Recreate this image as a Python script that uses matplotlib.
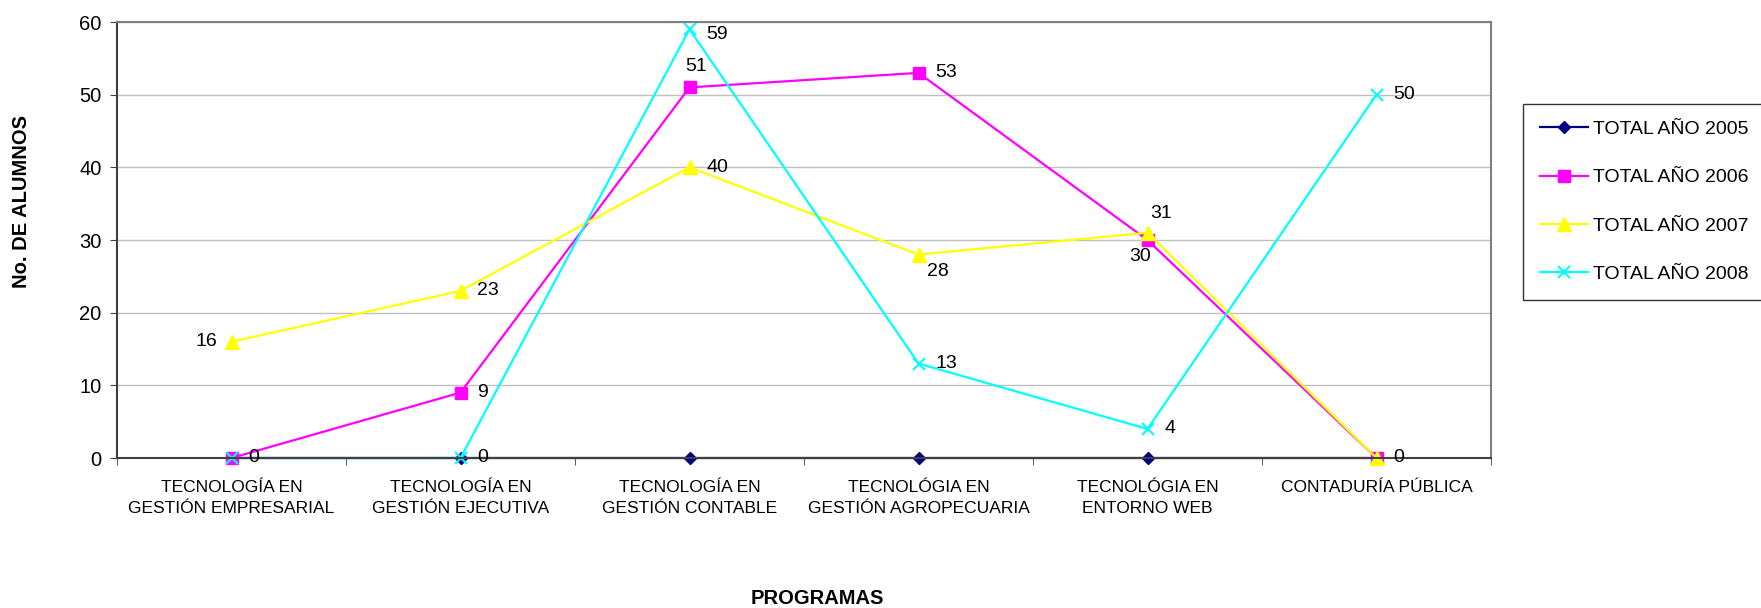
import matplotlib
matplotlib.use("Agg")
import matplotlib.pyplot as plt
import numpy as np

plt.rcParams["font.family"] = ["Liberation Sans", "DejaVu Sans"]

PROGRAMAS = [
    "TECNOLOGÍA EN\nGESTIÓN EMPRESARIAL",
    "TECNOLOGÍA EN\nGESTIÓN EJECUTIVA",
    "TECNOLOGÍA EN\nGESTIÓN CONTABLE",
    "TECNOLÓGIA EN\nGESTIÓN AGROPECUARIA",
    "TECNOLÓGIA EN\nENTORNO WEB",
    "CONTADURÍA PÚBLICA",
]
total_2005 = [0, 0, 0, 0, 0, 0]
total_2006 = [0, 9, 51, 53, 30, 0]
total_2007 = [16, 23, 40, 28, 31, 0]
total_2008 = [0, 0, 59, 13, 4, 50]
SERIES_NAMES = ["TOTAL AÑO 2005", "TOTAL AÑO 2006", "TOTAL AÑO 2007", "TOTAL AÑO 2008"]

STYLES = [
    dict(color="#000080", marker="D", ms=6),
    dict(color="#FF00FF", marker="s", ms=9),
    dict(color="#FFFF00", marker="^", ms=10),
    dict(color="#00FFFF", marker="x", ms=9, mew=1.5),
]

# (series index, point index, offset in points, ha, va)
LABELS = [
    (3, 0, (12, 0), "left", "center"),
    (0, 1, (12, 0), "left", "center"),
    (1, 1, (12, 0), "left", "center"),
    (2, 1, (12, 0), "left", "center"),
    (2, 0, (-10, 0), "right", "center"),
    (1, 2, (5, 9), "center", "bottom"),
    (3, 2, (12, -4), "left", "center"),
    (2, 2, (12, 0), "left", "center"),
    (1, 3, (12, 0), "left", "center"),
    (2, 3, (6, -12), "left", "center"),
    (3, 3, (12, 0), "left", "center"),
    (2, 4, (2, 14), "left", "center"),
    (1, 4, (-5, -12), "center", "center"),
    (3, 4, (12, 0), "left", "center"),
    (3, 5, (12, 0), "left", "center"),
    (1, 5, (12, 0), "left", "center"),
]


def plot_alumnos():
    data = [total_2005, total_2006, total_2007, total_2008]
    x = np.arange(len(PROGRAMAS))

    fig = plt.figure(figsize=(17.61, 6.08), dpi=100)
    ax = fig.add_axes([117 / 1761, 1 - 458 / 608, (1491 - 117) / 1761, (458 - 22) / 608])

    for vals, name, st in zip(data, SERIES_NAMES, STYLES):
        ax.plot(x, vals, lw=1.6, label=name, clip_on=False, **st)

    for s, i, off, ha, va in LABELS:
        ax.annotate(str(data[s][i]), (x[i], data[s][i]), xytext=off,
                    textcoords="offset points", ha=ha, va=va, fontsize=14)

    ax.set_xlim(-0.5, len(PROGRAMAS) - 0.5)
    ax.set_ylim(0, 60)
    ax.set_yticks(np.arange(0, 61, 10))
    ax.set_xticks(x)
    ax.set_xticklabels(PROGRAMAS, fontsize=12.5, linespacing=1.45)
    ax.set_xticks(np.arange(-0.5, len(PROGRAMAS), 1), minor=True)
    ax.tick_params(axis="x", which="major", length=0, pad=16)
    ax.tick_params(axis="x", which="minor", length=5, color="#404040")
    ax.tick_params(axis="y", length=5, color="#404040", labelsize=14.5, pad=6)
    ax.yaxis.grid(True, color="#c0c0c0", lw=1)
    ax.set_axisbelow(True)
    for sp in ["left", "bottom"]:
        ax.spines[sp].set_color("#404040")
        ax.spines[sp].set_linewidth(1.5)
    for sp in ["top", "right"]:
        ax.spines[sp].set_color("#808080")
        ax.spines[sp].set_linewidth(1.5)

    fig.text(22 / 1761, 1 - 202 / 608, "No. DE ALUMNOS", rotation=90, ha="center",
             va="center", fontsize=14.5, fontweight="bold")
    fig.text(817 / 1761, 1 - 599 / 608, "PROGRAMAS", ha="center", va="center",
             fontsize=14.5, fontweight="bold")

    leg = ax.legend(loc="upper left", bbox_to_anchor=(1523 / 1761, 1 - 104 / 608),
                    bbox_transform=fig.transFigure, frameon=True, fancybox=False,
                    edgecolor="black", fontsize=14, labelspacing=1.58, handlelength=2.5,
                    handletextpad=0.25, borderpad=0.85, borderaxespad=0)
    leg.get_frame().set_linewidth(1.0)

    fig.savefig("out.png", dpi=100)


if __name__ == "__main__":
    plot_alumnos()
